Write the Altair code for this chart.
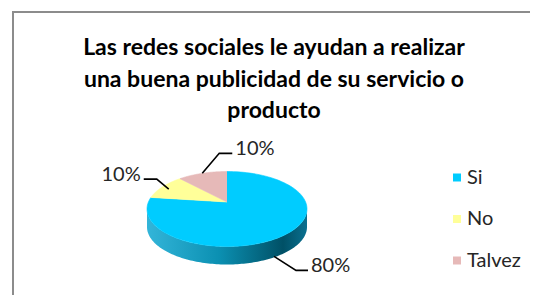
import altair as alt
import pandas as pd

# ---- data ----
categories = ["Si", "No", "Talvez"]
values = [80, 10, 10]
labels = ["80%", "10%", "10%"]
colors = ["#00CCFF", "#FFFF99", "#E6B9B8"]
title_lines = [
    "Las redes sociales le ayudan a realizar",
    "una buena publicidad de su servicio o",
    "producto",
]

# ---- layout (page pixels) ----
W, H = 522, 287
CX, CY, RX, RY = 227, 209, 80, 37.5
AX, AY = 227, 202
DEPTH = 18
N = 120
FONT = "Lato"

base = pd.DataFrame({"cat": categories, "value": values, "label": labels,
                     "idx": list(range(len(categories)))})
lead = pd.DataFrame({"cat": categories,
                     "rf": [1.0, 0.9, 1.0], "oy": [17, 0, 0],
                     "dx1": [22, -12, 17], "dy1": [14, -10, -20],
                     "dx2": [12, -13, 13]})
base = base.merge(lead, on="cat")

sx = alt.Scale(domain=[8, 8 + W], nice=False, zero=False)
sy = alt.Scale(domain=[8, 8 + H], reverse=True, nice=False, zero=False)
cscale = alt.Scale(domain=categories, range=colors)


def X(f):
    return alt.X(f, type="quantitative", scale=sx, axis=None)


def Y(f):
    return alt.Y(f, type="quantitative", scale=sy, axis=None)


angles = alt.Chart(base).transform_joinaggregate(
    total="sum(value)"
).transform_window(
    cum="sum(value)", sort=[alt.SortField("idx", order="ascending")], frame=[None, 0]
).transform_calculate(
    a0="2*PI*(datum.cum - datum.value)/datum.total",
    a1="2*PI*datum.cum/datum.total",
    am="(datum.a0 + datum.a1)/2",
)

side_grad = alt.LinearGradient(
    gradient="linear", x1=0, x2=1, y1=0, y2=0,
    stops=[
        alt.GradientStop(color="#33b5d9", offset=0),
        alt.GradientStop(color="#0b90b2", offset=0.45),
        alt.GradientStop(color="#005066", offset=0.85),
        alt.GradientStop(color="#0a7090", offset=1),
    ],
)

side = angles.transform_filter(alt.datum.idx == 0).transform_calculate(
    step=f"sequence(0, {2 * N + 2})"
).transform_flatten(["step"]).transform_calculate(
    ang=f"datum.step <= {N} ? PI/2 + PI*datum.step/{N} : 3*PI/2 - PI*(datum.step-{N + 1})/{N}",
    px=f"{CX} + {RX}*sin(datum.ang)",
    py=f"{CY} - {RY}*cos(datum.ang) + (datum.step > {N} ? {DEPTH} : 0)",
).mark_line(fill=side_grad, stroke="transparent", strokeWidth=0).encode(
    x=X("px"), y=Y("py"), order=alt.Order("step:Q")
)

wedges = angles.transform_calculate(
    step=f"sequence(-1, {N + 1})"
).transform_flatten(["step"]).transform_calculate(
    ang=f"datum.a0 + (datum.a1 - datum.a0) * max(datum.step, 0) / {N}",
    px=f"datum.step < 0 ? {AX} : {CX} + {RX}*sin(datum.ang)",
    py=f"datum.step < 0 ? {AY} : {CY} - {RY}*cos(datum.ang)",
).mark_line(strokeWidth=0.6).encode(
    x=X("px"), y=Y("py"),
    fill=alt.Fill("cat:N", scale=cscale, legend=None),
    stroke=alt.Stroke("cat:N", scale=cscale, legend=None),
    detail="cat:N",
    order=alt.Order("step:Q"),
)

leaders = angles.transform_calculate(
    step="sequence(0, 3)"
).transform_flatten(["step"]).transform_calculate(
    x0=f"{CX} + datum.rf*{RX}*sin(datum.am)",
    y0=f"{CY} - datum.rf*{RY}*cos(datum.am) + datum.oy",
).transform_calculate(
    px="datum.step == 0 ? datum.x0 : datum.step == 1 ? datum.x0 + datum.dx1 : datum.x0 + datum.dx1 + datum.dx2",
    py="datum.step == 0 ? datum.y0 : datum.y0 + datum.dy1",
).mark_line(color="black", strokeWidth=1.6).encode(
    x=X("px"), y=Y("py"), detail="cat:N", order=alt.Order("step:Q")
)

lbl = angles.transform_calculate(
    x0=f"{CX} + datum.rf*{RX}*sin(datum.am)",
    y0=f"{CY} - datum.rf*{RY}*cos(datum.am) + datum.oy",
).transform_calculate(
    tx="datum.x0 + datum.dx1 + datum.dx2",
    ty="datum.y0 + datum.dy1",
)
lbl_left = lbl.transform_filter(alt.datum.dx2 > 0).mark_text(
    align="left", baseline="middle", dx=3, dy=-4, font=FONT, fontSize=20, color="#262626"
).encode(x=X("tx"), y=Y("ty"), text="label:N")
lbl_right = lbl.transform_filter(alt.datum.dx2 < 0).mark_text(
    align="right", baseline="middle", dx=-3, dy=-4, font=FONT, fontSize=20, color="#262626"
).encode(x=X("tx"), y=Y("ty"), text="label:N")

LEG_X, LEG_Y0, LEG_DY = 457, 177.5, 41.5
leg = alt.Chart(base).transform_calculate(
    lx=f"{LEG_X}", ly=f"{LEG_Y0} + datum.idx*{LEG_DY}"
)
leg_sq = leg.mark_square(size=64, opacity=1, strokeWidth=0).encode(
    x=X("lx"), y=Y("ly"), fill=alt.Fill("cat:N", scale=cscale, legend=None)
)
leg_tx = leg.mark_text(align="left", baseline="middle", dx=10, font=FONT,
                       fontSize=20, color="#262626").encode(
    x=X("lx"), y=Y("ly"), text="cat:N"
)

title = alt.Chart(pd.DataFrame({"t": [title_lines]})).mark_text(
    font=FONT, fontSize=23, fontWeight="bold", color="#000000",
    align="center", baseline="top", lineHeight=31.5
).encode(x=alt.value(274 - 8), y=alt.value(37 - 8), text="t")

border = alt.Chart(pd.DataFrame({"a": [0]})).mark_rule(color="#8c8c8c", strokeWidth=2)
border_l = border.encode(x=alt.value(13 - 8), y=alt.value(12 - 8), y2=alt.value(H + 2))
border_t = border.encode(y=alt.value(12 - 8), x=alt.value(12 - 8), x2=alt.value(W + 2))

chart = alt.layer(
    border_l, border_t, side, wedges, leaders, lbl_left, lbl_right, leg_sq, leg_tx, title
).properties(
    width=W, height=H, padding=0, autosize=alt.AutoSizeParams(type="none")
).configure_view(stroke=None)

chart.save("out.html", embed_options={"renderer": "svg", "actions": False})
